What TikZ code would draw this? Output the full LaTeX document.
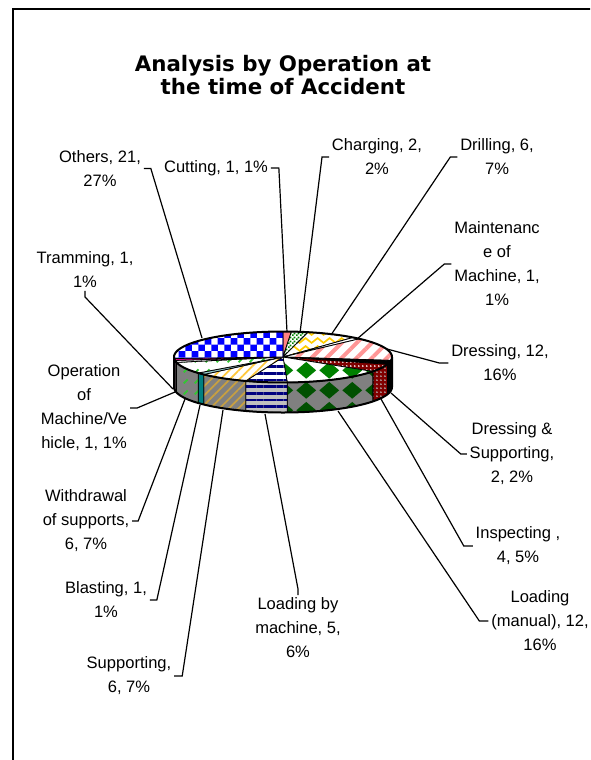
\documentclass[tikz,border=0pt]{standalone}
\usepackage{fontspec}
\setmainfont{Liberation Sans}
\newfontfamily\titlefont{DejaVu Sans}
\usetikzlibrary{patterns.meta}

\definecolor{navyblue}{RGB}{0,0,128}
\definecolor{diamgreen}{RGB}{0,128,0}
\definecolor{darkdiam}{RGB}{0,80,0}
\definecolor{pinkline}{RGB}{255,150,150}
\definecolor{zigyellow}{RGB}{255,204,0}
\definecolor{goldline}{RGB}{255,200,60}
\definecolor{oliveline}{RGB}{200,160,64}
\definecolor{dotgreen}{RGB}{50,200,50}
\definecolor{maroonred}{RGB}{128,0,0}
\definecolor{salmon}{RGB}{255,130,130}
\definecolor{sidegray}{RGB}{128,128,128}

% custom fills
\tikzdeclarepattern{
  name=checks, type=uncolored,
  bounding box={(0pt,0pt) and (9.6pt,9.6pt)},
  tile size={(9.6pt,9.6pt)},
  code={\fill (0pt,0pt) rectangle (4.8pt,4.8pt);
        \fill (4.8pt,4.8pt) rectangle (9.6pt,9.6pt);}
}
\tikzdeclarepattern{
  name=smallchecks, type=uncolored,
  bounding box={(0pt,0pt) and (3pt,3pt)},
  tile size={(3pt,3pt)},
  code={\fill (0pt,0pt) rectangle (1.5pt,1.5pt);
        \fill (1.5pt,1.5pt) rectangle (3pt,3pt);}
}
\tikzdeclarepattern{
  name=diamonds, type=uncolored,
  bounding box={(0pt,0pt) and (17pt,15pt)},
  tile size={(17pt,15pt)},
  code={\fill (8.5pt,1pt) -- (16pt,7.5pt) -- (8.5pt,14pt) -- (1pt,7.5pt) -- cycle;}
}
\tikzdeclarepattern{
  name=zigzag, type=uncolored,
  bounding box={(0pt,0pt) and (9pt,6pt)},
  tile size={(9pt,6pt)},
  code={\draw[line width=1.4pt] (-1pt,0.5pt) -- (0pt,1.2pt) -- (4.5pt,4.8pt) -- (9pt,1.2pt) -- (10pt,0.5pt);}
}
\tikzdeclarepattern{
  name=dots, type=uncolored,
  bounding box={(0pt,0pt) and (3.2pt,3.2pt)},
  tile size={(3.2pt,3.2pt)},
  code={\fill (1.6pt,1.6pt) circle (0.8pt);}
}
\tikzdeclarepattern{
  name=dashes, type=uncolored,
  bounding box={(0pt,0pt) and (8pt,8pt)},
  tile size={(8pt,8pt)},
  code={\draw[line width=1.3pt] (2pt,2pt) -- (5pt,5pt);}
}

\begin{document}
\begin{tikzpicture}[x=0.75pt,y=-0.75pt,
  title/.style={font=\titlefont\bfseries\fontsize{16}{17.25}\selectfont, align=center},
  lbl/.style={font=\fontsize{12.4}{18}\selectfont, align=center, inner sep=2pt},
  leader/.style={line width=0.9pt},
  slice/.style={draw=black, line width=0.6pt},
  rim/.style={line width=1.5pt, line join=round},
  % tops
  cuttop/.style={fill=salmon},
  chargetop/.style={preaction={fill=white}, pattern=smallchecks, pattern color=diamgreen},
  drilltop/.style={preaction={fill=white}, pattern=zigzag, pattern color=zigyellow},
  mainttop/.style={fill=white},
  dresstop/.style={preaction={fill=white}, pattern={Lines[angle=45,distance=8pt,line width=3pt]}, pattern color=pinkline},
  dstop/.style={fill=black},
  inspecttop/.style={preaction={fill=maroonred}, pattern=dots, pattern color=white},
  loadmantop/.style={preaction={fill=white}, pattern=diamonds, pattern color=diamgreen},
  loadmachtop/.style={preaction={fill=white}, pattern={Lines[angle=0,distance=5pt,line width=2.2pt]}, pattern color=navyblue},
  supporttop/.style={preaction={fill=white}, pattern={Lines[angle=45,distance=5pt,line width=1.3pt]}, pattern color=goldline},
  blasttop/.style={fill=teal!40},
  withdrawtop/.style={preaction={fill=white}, pattern=dashes, pattern color=dotgreen},
  operationtop/.style={fill=white},
  tramtop/.style={fill=magenta},
  otherstop/.style={preaction={fill=blue}, pattern=checks, pattern color=white},
  % sides
  dresside/.style={preaction={fill=sidegray}, pattern={Lines[angle=45,distance=8pt,line width=3pt]}, pattern color=pinkline},
  dsside/.style={fill=black},
  inspectside/.style={preaction={fill=maroonred}, pattern=dots, pattern color=gray!60},
  loadmanside/.style={preaction={fill=sidegray}, pattern=diamonds, pattern color=darkdiam},
  loadmachside/.style={preaction={fill=gray!50}, pattern={Lines[angle=0,distance=5pt,line width=2.2pt]}, pattern color=navyblue},
  supportside/.style={preaction={fill=sidegray}, pattern={Lines[angle=45,distance=5pt,line width=1.3pt]}, pattern color=oliveline},
  blastside/.style={fill=teal},
  withdrawside/.style={preaction={fill=sidegray}, pattern=dashes, pattern color=dotgreen},
  operationside/.style={fill=sidegray},
  tramside/.style={fill=magenta!60!gray},
  othersside/.style={fill=blue!70!black}]

\useasboundingbox (0,0) rectangle (590,760);
\clip (0,0) rectangle (590,760);
\fill[white] (0,0) rectangle (590,760);

% chart frame, cut by the page
\draw[line width=1.6pt] (13,780) -- (13,9) -- (610,9);

\node[title] (title) at (283,75.5) {Analysis by Operation at\\the time of Accident};

% front side of the pie
\foreach \a/\b/\sty in {90/97.778/dresside, 97.778/106.667/dsside,
    106.667/124.444/inspectside, 124.444/177.778/loadmanside,
    177.778/200/loadmachside, 200/226.667/supportside,
    226.667/231.111/blastside, 231.111/257.778/withdrawside,
    257.778/262.222/operationside, 262.222/266.667/tramside,
    266.667/270/othersside}
  \draw[slice,\sty] plot[domain=\a:\b,samples=25] ({283+109*sin(\x)},{357-25.5*cos(\x)})
    -- plot[domain=\b:\a,samples=25] ({283+109*sin(\x)},{387-25.5*cos(\x)}) -- cycle;

% top of the pie
\foreach \a/\b/\sty in {0/4.444/cuttop, 4.444/13.333/chargetop,
    13.333/40/drilltop, 40/44.444/mainttop, 44.444/97.778/dresstop,
    97.778/106.667/dstop, 106.667/124.444/inspecttop,
    124.444/177.778/loadmantop, 177.778/200/loadmachtop,
    200/226.667/supporttop, 226.667/231.111/blasttop,
    231.111/257.778/withdrawtop, 257.778/262.222/operationtop,
    262.222/266.667/tramtop, 266.667/360/otherstop}
  \draw[slice,\sty] (283,357) -- plot[domain=\a:\b,samples=30] ({283+109*sin(\x)},{357-25.5*cos(\x)}) -- cycle;

\draw[rim] plot[domain=0:360,samples=150] ({283+109*sin(\x)},{357-25.5*cos(\x)}) -- cycle;
\draw[rim] (174,357) -- plot[domain=270:90,samples=100] ({283+109*sin(\x)},{387-25.5*cos(\x)}) -- (392,357);

% points where the leaders meet the pie
\coordinate (p-others) at (202,338);
\coordinate (p-cutting) at (287,332);
\coordinate (p-charging) at (300,333);
\coordinate (p-drilling) at (331,335);
\coordinate (p-maint) at (357,339);
\coordinate (p-dressing) at (387,349);
\coordinate (p-ds) at (391,393);
\coordinate (p-inspect) at (381,399);
\coordinate (p-loadman) at (338,411);
\coordinate (p-loadmach) at (265,414);
\coordinate (p-support) at (223,410);
\coordinate (p-blast) at (200,405);
\coordinate (p-withdraw) at (185,399);
\coordinate (p-operation) at (175,392);
\coordinate (p-tram) at (173,389);

% labels
\node[lbl] (others) at (100,168.5) {Others, 21,\\27\%};
\node[lbl] (cutting) at (216,168) {Cutting, 1, 1\%};
\node[lbl] (charging) at (377,157) {Charging, 2,\\2\%};
\node[lbl] (drilling) at (497,157) {Drilling, 6,\\7\%};
\node[lbl] (maint) at (497,264) {Maintenanc\\e of\\Machine, 1,\\1\%};
\node[lbl] (dressing) at (500,363) {Dressing, 12,\\16\%};
\node[lbl] (ds) at (512,454) {Dressing \&\\Supporting,\\2, 2\%};
\node[lbl] (inspect) at (518,546) {Inspecting ,\\4, 5\%};
\node[lbl] (loadman) at (540,621) {Loading\\(manual), 12,\\16\%};
\node[lbl] (loadmach) at (298,628) {Loading by\\machine, 5,\\6\%};
\node[lbl] (support) at (129,676) {Supporting,\\6, 7\%};
\node[lbl] (blast) at (106,600) {Blasting, 1,\\1\%};
\node[lbl] (withdraw) at (86,521) {Withdrawal\\of supports,\\6, 7\%};
\node[lbl] (operation) at (84,408) {Operation\\of\\Machine/Ve\\hicle, 1, 1\%};
\node[lbl] (tram) at (85,270) {Tramming, 1,\\1\%};

% leaders
\draw[leader] (others.east) -- ++(7,0) -- (p-others);
\draw[leader] (cutting.east) -- ++(8,0) -- (p-cutting);
\draw[leader] (charging.west) -- ++(-7,0) -- (p-charging);
\draw[leader] (drilling.west) -- ++(-7,0) -- (p-drilling);
\draw[leader] (maint.west) -- ++(-7,0) -- (p-maint);
\draw[leader] (dressing.west) -- ++(-9,0) -- (p-dressing);
\draw[leader] (ds.west) -- ++(-6,0) -- (p-ds);
\draw[leader] (inspect.west) -- ++(-9,0) -- (p-inspect);
\draw[leader] (loadman.west) -- ++(-9,0) -- (p-loadman);
\draw[leader] (loadmach.north) -- ++(0,-6) -- (p-loadmach);
\draw[leader] (support.east) -- ++(8,0) -- (p-support);
\draw[leader] (blast.east) -- ++(7,0) -- (p-blast);
\draw[leader] (withdraw.east) -- ++(6,0) -- (p-withdraw);
\draw[leader] (operation.east) -- ++(7,0) -- (p-operation);
\draw[leader] (tram.south) -- ++(0,6) -- (p-tram);
\end{tikzpicture}
\end{document}
